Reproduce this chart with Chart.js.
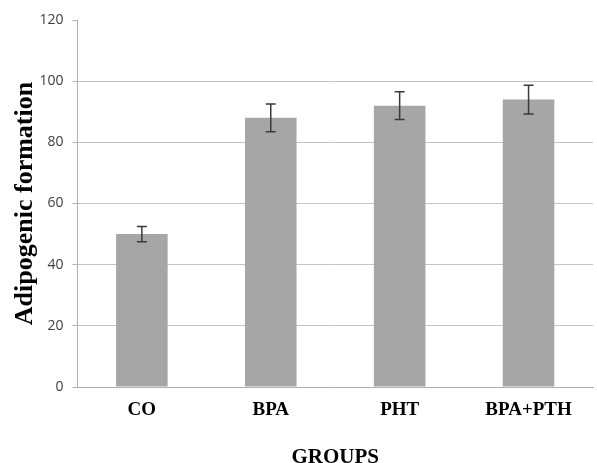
<!DOCTYPE html>
<html>
<head>
    <title>Adipogenic formation</title>
    <script src="https://cdn.jsdelivr.net/npm/chart.js"></script>
    <style>
        html, body { margin: 0; padding: 0; background: #fff; }
        #wrap { width: 597px; height: 463px; }
    </style>
</head>
<body>
    <div id="wrap">
        <canvas id="adipo-chart"></canvas>
    </div>

    <script>
        const groups = ['CO', 'BPA', 'PHT', 'BPA+PTH'];
        const formation = [50, 88, 92, 94];
        const errors = [2.5, 4.5, 4.5, 4.7];
        const yTicks = [0, 20, 40, 60, 80, 100, 120];

        // draws the error bars from the data through the y scale
        const errorBars = {
            id: 'errorBars',
            afterDatasetsDraw(chart) {
                const ctx = chart.ctx;
                const y = chart.scales.y;
                const meta = chart.getDatasetMeta(0);
                ctx.save();
                ctx.strokeStyle = '#3a3a3a';
                ctx.lineWidth = 1.5;
                meta.data.forEach((bar, i) => {
                    const top = y.getPixelForValue(formation[i] + errors[i]);
                    const bot = y.getPixelForValue(formation[i] - errors[i]);
                    ctx.beginPath();
                    ctx.moveTo(bar.x, top);
                    ctx.lineTo(bar.x, bot);
                    ctx.moveTo(bar.x - 5, top);
                    ctx.lineTo(bar.x + 5, top);
                    ctx.moveTo(bar.x - 5, bot);
                    ctx.lineTo(bar.x + 5, bot);
                    ctx.stroke();
                });
                ctx.restore();
            }
        };

        new Chart(document.getElementById('adipo-chart').getContext('2d'), {
            type: 'bar',
            data: {
                labels: groups,
                datasets: [{
                    label: 'Adipogenic formation',
                    data: formation,
                    backgroundColor: '#a6a6a6',
                    barPercentage: 0.4,
                    categoryPercentage: 1
                }]
            },
            options: {
                responsive: true,
                maintainAspectRatio: false,
                animation: false,
                layout: { padding: { top: 20, right: 4, left: 4, bottom: -7 } },
                plugins: {
                    legend: { display: false },
                    tooltip: { enabled: false }
                },
                scales: {
                    x: {
                        grid: { display: false },
                        border: { display: true, color: '#b0b0b0' },
                        ticks: {
                            color: '#000',
                            padding: 4,
                            font: { family: 'Liberation Serif', size: 19, weight: 'bold' }
                        },
                        title: {
                            display: true,
                            text: 'GROUPS',
                            color: '#000',
                            padding: { top: 19, bottom: 0 },
                            font: { family: 'Liberation Serif', size: 21, weight: 'bold' }
                        }
                    },
                    y: {
                        min: 0,
                        max: 120,
                        afterBuildTicks: axis => {
                            axis.ticks = yTicks.map(v => ({ value: v }));
                        },
                        grid: {
                            color: ctx => ctx.tick && ctx.tick.value === 120 ? 'rgba(0,0,0,0)' : '#c4c4c4',
                            tickColor: '#b0b0b0',
                            tickLength: 5
                        },
                        border: { display: true, color: '#b0b0b0' },
                        ticks: {
                            color: '#404040',
                            padding: 9,
                            font: { family: 'Open Sans', size: 14 }
                        },
                        title: {
                            display: true,
                            text: 'Adipogenic formation',
                            color: '#000',
                            padding: { top: 16, bottom: 0 },
                            font: { family: 'Liberation Serif', size: 26, weight: 'bold', lineHeight: 0.4 }
                        }
                    }
                }
            },
            plugins: [errorBars]
        });
    </script>
</body>
</html>
